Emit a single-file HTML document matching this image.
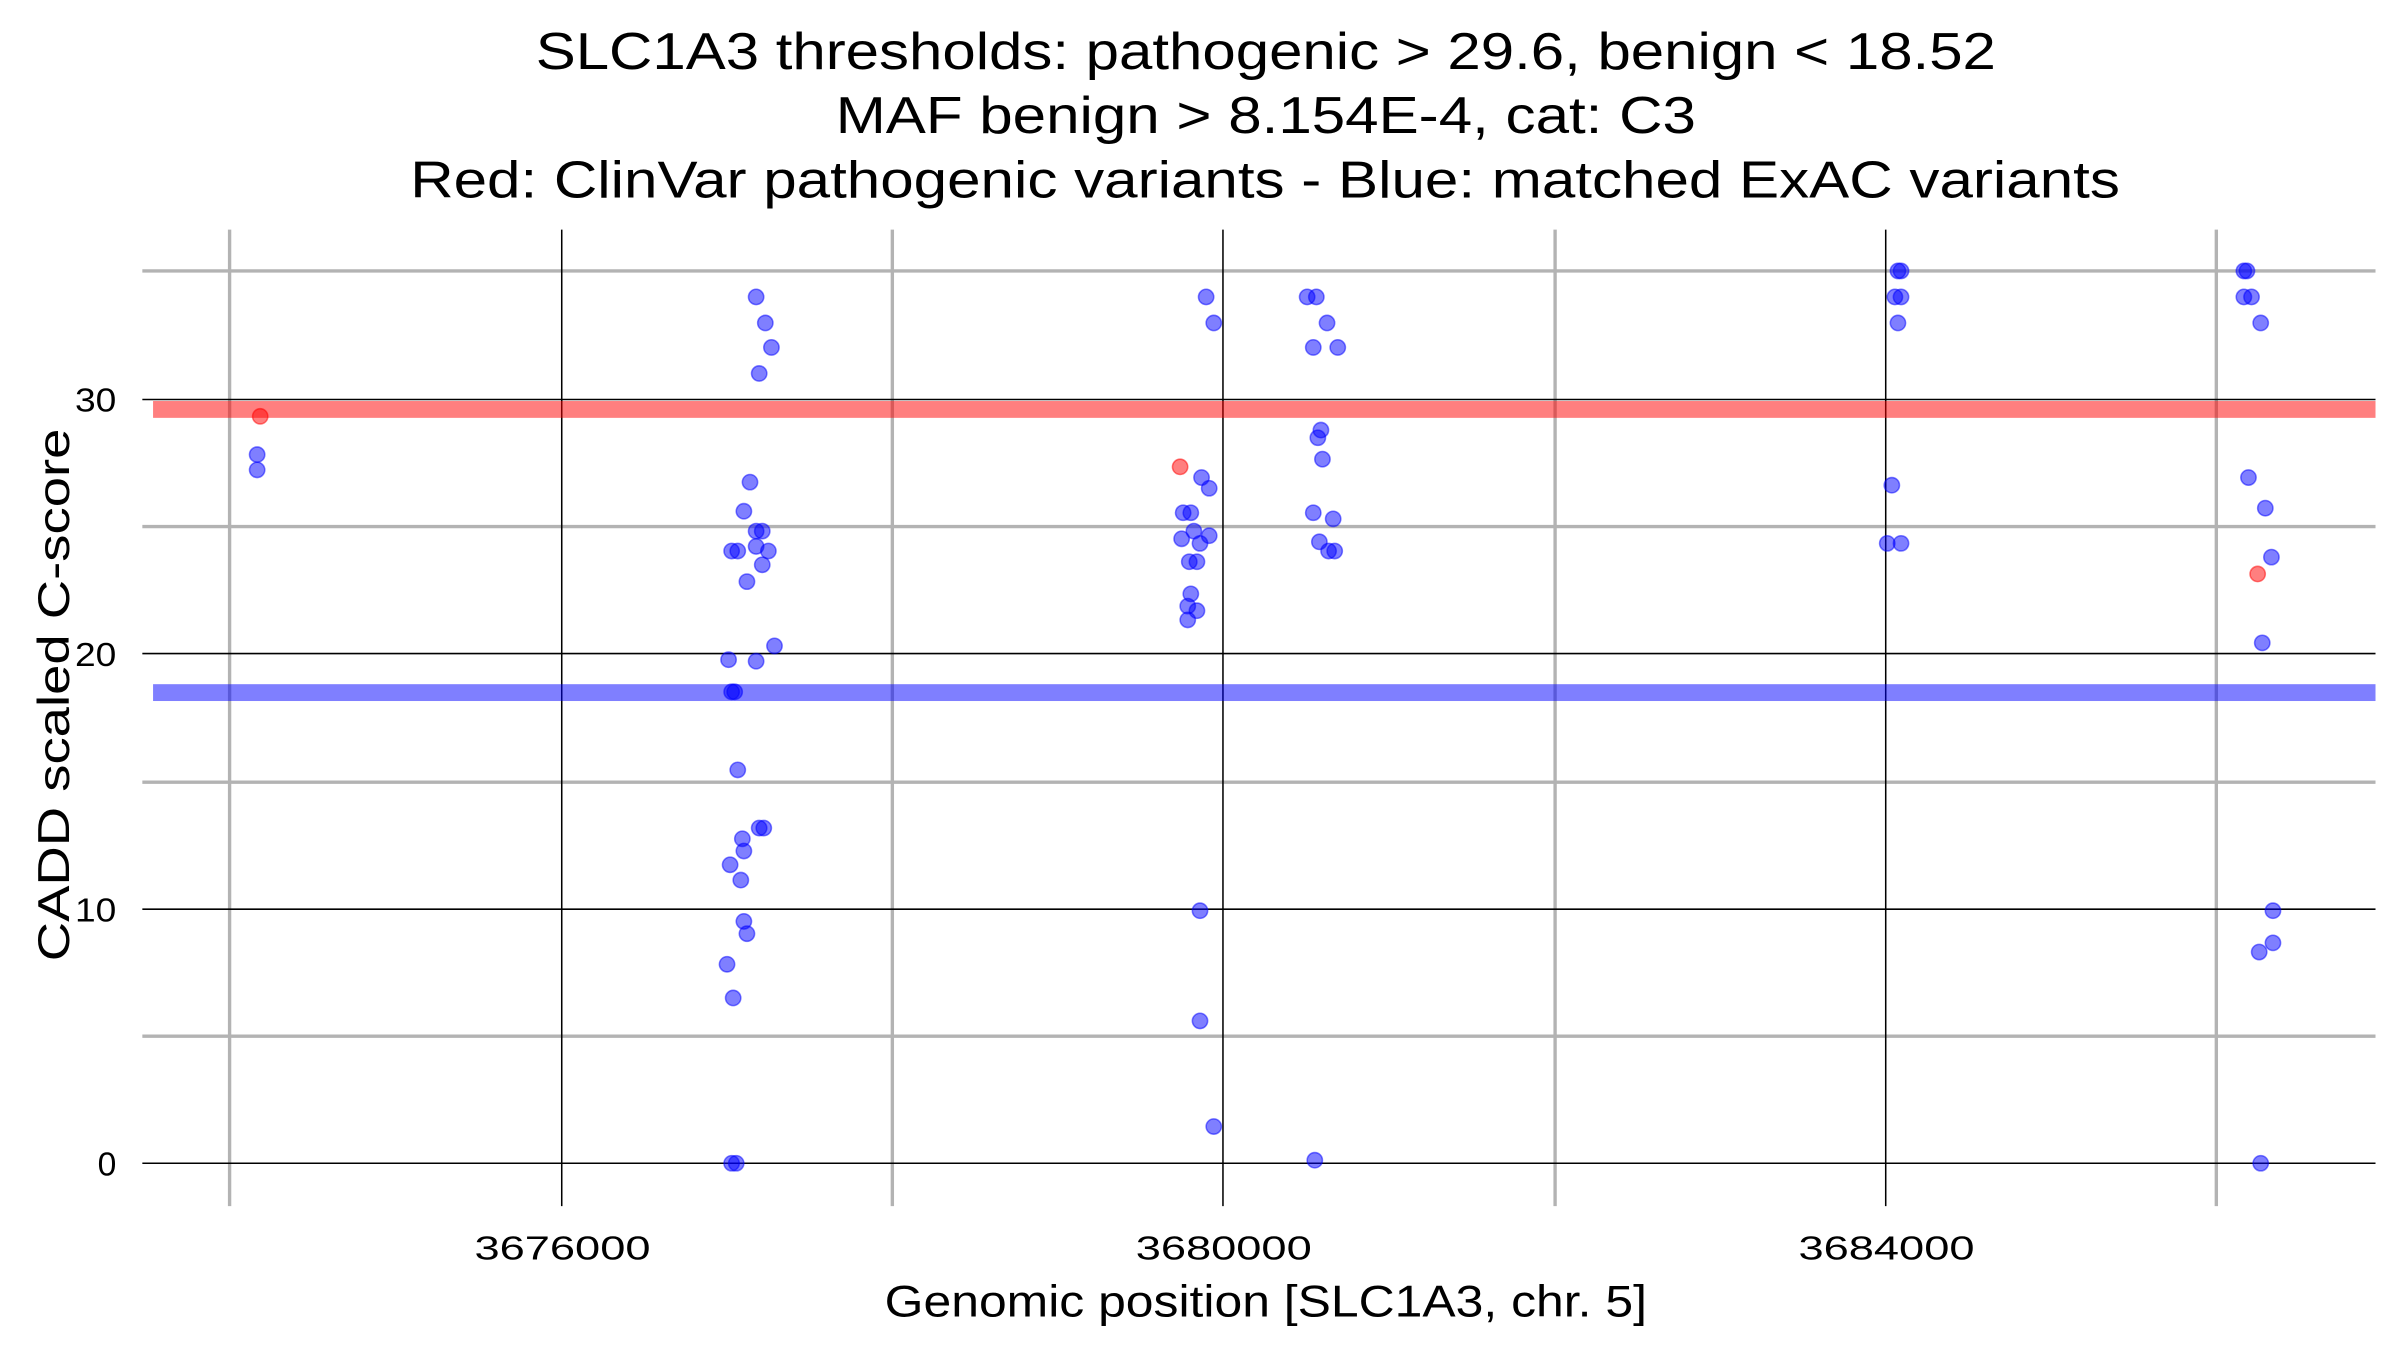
<!DOCTYPE html>
<html><head><style>html,body{margin:0;padding:0;background:#fff}svg{display:block}</style></head>
<body>
<svg width="2400" height="1350" viewBox="0 0 1568 882" xmlns="http://www.w3.org/2000/svg" font-family="Liberation Sans, sans-serif">
<rect width="1568" height="882" fill="#fff"/>
<g stroke="#b3b3b3" stroke-width="2.2">
<line x1="150" y1="150" x2="150" y2="788"/><line x1="583" y1="150" x2="583" y2="788"/><line x1="1016" y1="150" x2="1016" y2="788"/><line x1="1448" y1="150" x2="1448" y2="788"/>
<line x1="93" y1="177" x2="1552" y2="177"/><line x1="93" y1="344" x2="1552" y2="344"/><line x1="93" y1="511" x2="1552" y2="511"/><line x1="93" y1="677" x2="1552" y2="677"/>
</g>
<g stroke="#000" stroke-width="1">
<line x1="367" y1="150" x2="367" y2="788"/><line x1="799" y1="150" x2="799" y2="788"/><line x1="1232" y1="150" x2="1232" y2="788"/>
<line x1="93" y1="261" x2="1552" y2="261"/><line x1="93" y1="427" x2="1552" y2="427"/><line x1="93" y1="594" x2="1552" y2="594"/><line x1="93" y1="760" x2="1552" y2="760"/>
</g>
<rect x="100" y="262" width="1452" height="11" fill="#ff0000" opacity="0.5"/>
<rect x="100" y="447" width="1452" height="11" fill="#0000ff" opacity="0.5"/>
<g fill="#0000ff" fill-opacity="0.5" stroke="#0000ff" stroke-opacity="0.5" stroke-width="1">
<circle cx="168" cy="297" r="5"/><circle cx="168" cy="307" r="5"/>
<circle cx="494" cy="194" r="5"/><circle cx="500" cy="211" r="5"/><circle cx="504" cy="227" r="5"/><circle cx="496" cy="244" r="5"/><circle cx="490" cy="315" r="5"/><circle cx="486" cy="334" r="5"/><circle cx="494" cy="347" r="5"/><circle cx="498" cy="347" r="5"/><circle cx="478" cy="360" r="5"/><circle cx="482" cy="360" r="5"/><circle cx="502" cy="360" r="5"/><circle cx="494" cy="357" r="5"/><circle cx="498" cy="369" r="5"/><circle cx="488" cy="380" r="5"/><circle cx="506" cy="422" r="5"/><circle cx="476" cy="431" r="5"/><circle cx="494" cy="432" r="5"/><circle cx="478" cy="452" r="5"/><circle cx="480" cy="452" r="5"/><circle cx="482" cy="503" r="5"/><circle cx="496" cy="541" r="5"/><circle cx="499" cy="541" r="5"/><circle cx="485" cy="548" r="5"/><circle cx="486" cy="556" r="5"/><circle cx="477" cy="565" r="5"/><circle cx="484" cy="575" r="5"/><circle cx="486" cy="602" r="5"/><circle cx="488" cy="610" r="5"/><circle cx="475" cy="630" r="5"/><circle cx="479" cy="652" r="5"/><circle cx="478" cy="760" r="5"/><circle cx="481" cy="760" r="5"/>
<circle cx="788" cy="194" r="5"/><circle cx="793" cy="211" r="5"/><circle cx="785" cy="312" r="5"/><circle cx="790" cy="319" r="5"/><circle cx="773" cy="335" r="5"/><circle cx="778" cy="335" r="5"/><circle cx="780" cy="347" r="5"/><circle cx="772" cy="352" r="5"/><circle cx="790" cy="350" r="5"/><circle cx="784" cy="355" r="5"/><circle cx="777" cy="367" r="5"/><circle cx="782" cy="367" r="5"/><circle cx="778" cy="388" r="5"/><circle cx="776" cy="396" r="5"/><circle cx="782" cy="399" r="5"/><circle cx="776" cy="405" r="5"/><circle cx="784" cy="595" r="5"/><circle cx="784" cy="667" r="5"/><circle cx="793" cy="736" r="5"/>
<circle cx="854" cy="194" r="5"/><circle cx="860" cy="194" r="5"/><circle cx="867" cy="211" r="5"/><circle cx="858" cy="227" r="5"/><circle cx="874" cy="227" r="5"/><circle cx="863" cy="281" r="5"/><circle cx="861" cy="286" r="5"/><circle cx="864" cy="300" r="5"/><circle cx="858" cy="335" r="5"/><circle cx="871" cy="339" r="5"/><circle cx="862" cy="354" r="5"/><circle cx="868" cy="360" r="5"/><circle cx="872" cy="360" r="5"/><circle cx="859" cy="758" r="5"/>
<circle cx="1240" cy="177" r="5"/><circle cx="1242" cy="177" r="5"/><circle cx="1238" cy="194" r="5"/><circle cx="1242" cy="194" r="5"/><circle cx="1240" cy="211" r="5"/><circle cx="1236" cy="317" r="5"/><circle cx="1233" cy="355" r="5"/><circle cx="1242" cy="355" r="5"/>
<circle cx="1466" cy="177" r="5"/><circle cx="1468" cy="177" r="5"/><circle cx="1466" cy="194" r="5"/><circle cx="1471" cy="194" r="5"/><circle cx="1477" cy="211" r="5"/><circle cx="1469" cy="312" r="5"/><circle cx="1480" cy="332" r="5"/><circle cx="1484" cy="364" r="5"/><circle cx="1478" cy="420" r="5"/><circle cx="1485" cy="595" r="5"/><circle cx="1485" cy="616" r="5"/><circle cx="1476" cy="622" r="5"/><circle cx="1477" cy="760" r="5"/>
</g>
<g fill="#ff0000" fill-opacity="0.5" stroke="#ff0000" stroke-opacity="0.5" stroke-width="1">
<circle cx="170" cy="272" r="5"/><circle cx="771" cy="305" r="5"/><circle cx="1475" cy="375" r="5"/>
</g>
<g font-size="22" fill="#000" text-anchor="end">
<text x="76" y="768">0</text><text x="76" y="602" textLength="27" lengthAdjust="spacingAndGlyphs">10</text><text x="76" y="435" textLength="27" lengthAdjust="spacingAndGlyphs">20</text><text x="76" y="269" textLength="27" lengthAdjust="spacingAndGlyphs">30</text>
</g>
<g font-size="22" fill="#000">
<text x="310" y="823" textLength="115" lengthAdjust="spacingAndGlyphs">3676000</text><text x="742" y="823" textLength="115" lengthAdjust="spacingAndGlyphs">3680000</text><text x="1175" y="823" textLength="115" lengthAdjust="spacingAndGlyphs">3684000</text>
</g>
<text x="578" y="860" font-size="29" textLength="498" lengthAdjust="spacingAndGlyphs">Genomic position [SLC1A3, chr. 5]</text>
<text transform="translate(45,628) rotate(-90)" font-size="29" textLength="348" lengthAdjust="spacingAndGlyphs">CADD scaled C-score</text>
<g font-size="34">
<text x="350" y="45" textLength="954" lengthAdjust="spacingAndGlyphs">SLC1A3 thresholds: pathogenic &gt; 29.6, benign &lt; 18.52</text>
<text x="546" y="87" textLength="562" lengthAdjust="spacingAndGlyphs">MAF benign &gt; 8.154E-4, cat: C3</text>
<text x="268" y="129" textLength="1117" lengthAdjust="spacingAndGlyphs">Red: ClinVar pathogenic variants - Blue: matched ExAC variants</text>
</g>
</svg>
</body></html>
